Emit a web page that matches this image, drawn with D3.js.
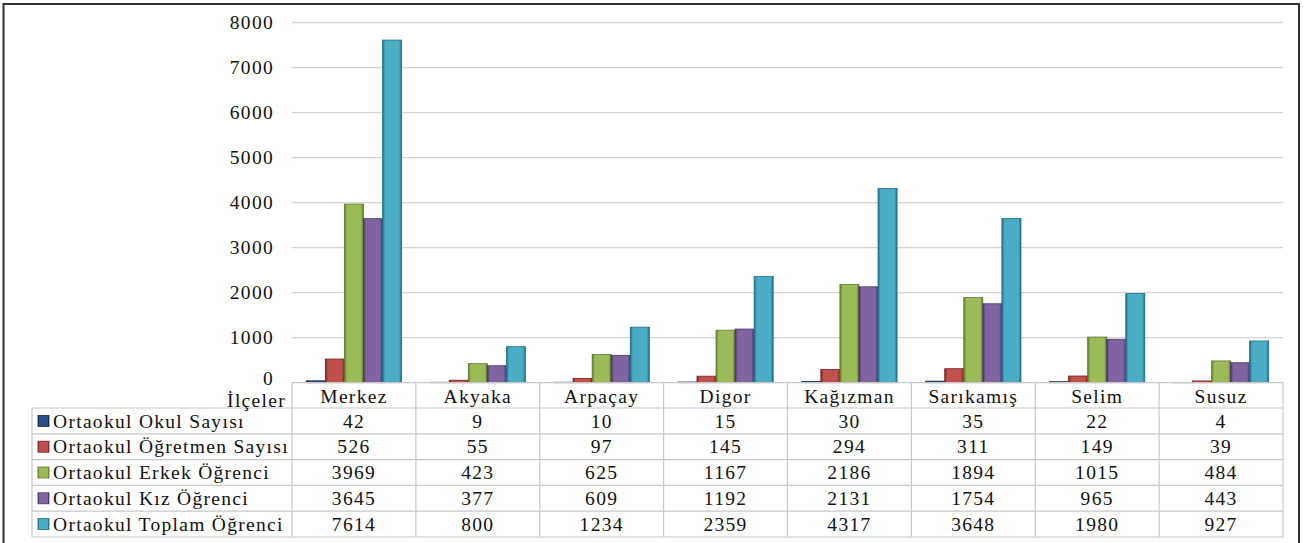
<!DOCTYPE html>
<html><head><meta charset="utf-8">
<script src="https://cdn.jsdelivr.net/npm/d3@7/dist/d3.min.js"></script>
<style>body{margin:0;background:#fff}svg{display:block}</style>
</head><body>
<script>
const categories = ["Merkez","Akyaka","Arpaçay","Digor","Kağızman","Sarıkamış","Selim","Susuz"];
const seriesNames = ["Ortaokul Okul Sayısı","Ortaokul Öğretmen Sayısı","Ortaokul Erkek Öğrenci","Ortaokul Kız Öğrenci","Ortaokul Toplam Öğrenci"];
const okul = [42,9,10,15,30,35,22,4];
const ogretmen = [526,55,97,145,294,311,149,39];
const erkek = [3969,423,625,1167,2186,1894,1015,484];
const kiz = [3645,377,609,1192,2131,1754,965,443];
const toplam = [7614,800,1234,2359,4317,3648,1980,927];
const yTicks = [0,1000,2000,3000,4000,5000,6000,7000,8000];
const seriesValues = [okul, ogretmen, erkek, kiz, toplam];
const colors = ["#2a4f86","#c0504d","#9bbb59","#8064a2","#4bacc6"];
const darks = ["#152a4a","#7a2220","#5f7a2c","#4a3468","#1f6f86"];
const FONT = "Liberation Serif";

const W=1309,H=543;
const svg=d3.select("body").append("svg").attr("width",W).attr("height",H);
const defs=svg.append("defs");
colors.forEach((c,i)=>{
  const g=defs.append("linearGradient").attr("id","g"+i).attr("x1","0").attr("x2","1").attr("y1","0").attr("y2","0");
  [[0,darks[i]],[0.14,c],[0.86,c],[1,darks[i]]].forEach(([o,col])=>g.append("stop").attr("offset",o).attr("stop-color",col));
});

const x0=292,x1=1283,yTop=22.7,yBase=382.7;
const x=d3.scaleBand().domain(categories).range([x0,x1]).padding(0);
const xs=d3.scaleBand().domain(d3.range(5)).range([0,x.bandwidth()]).paddingInner(0).paddingOuter(0.75);
const y=d3.scaleLinear().domain([0,8000]).range([yBase,yTop]);

// outer border
svg.append("rect").attr("x",3.5).attr("y",4).attr("width",1295.5).attr("height",H+10).attr("fill","none").attr("stroke","#333").attr("stroke-width",2);

// gridlines
svg.append("g").selectAll("line").data(yTicks.filter(d=>d>0)).join("line")
  .attr("x1",x0).attr("x2",x1).attr("y1",d=>y(d)).attr("y2",d=>y(d))
  .attr("stroke","#d4d4d4").attr("stroke-width",1.3);

function txt(g,xx,yy,s,anchor,size){
  return g.append("text").attr("x",xx).attr("y",yy).attr("dy","0.34em")
    .attr("font-family",FONT).attr("fill","#111").attr("letter-spacing","1.3px")
    .attr("text-anchor",anchor).attr("font-size",size||19.5).text(s);
}
// y tick labels
const ga=svg.append("g");
yTicks.forEach(t=>txt(ga,274,t===0?y(t)-4:y(t),String(t),"end"));

// bars
const gb=svg.append("g");
seriesValues.forEach((vals,si)=>{
  gb.selectAll(null).data(categories).join("rect")
    .attr("x",(d)=>x(d)+xs(si)).attr("width",xs.bandwidth())
    .attr("y",(d,i)=>y(seriesValues[si][i])).attr("height",(d,i)=>yBase-y(seriesValues[si][i]))
    .attr("fill",`url(#g${si})`).attr("stroke",darks[si]).attr("stroke-width",0.8);
});

// table
const rowTop=408, rowH=25.8, nRows=5, tBot=rowTop+rowH*nRows;
const gt=svg.append("g").attr("stroke","#c8c8c8").attr("stroke-width",1.2);
gt.append("line").attr("x1",x0).attr("x2",x1).attr("y1",yBase).attr("y2",yBase);
for(let r=0;r<=nRows;r++){
  gt.append("line").attr("x1",32).attr("x2",x1).attr("y1",rowTop+r*rowH).attr("y2",rowTop+r*rowH);
}
gt.append("line").attr("x1",32).attr("x2",32).attr("y1",rowTop).attr("y2",tBot);
categories.forEach(c=>gt.append("line").attr("x1",x(c)).attr("x2",x(c)).attr("y1",yBase).attr("y2",tBot));
gt.append("line").attr("x1",x1).attr("x2",x1).attr("y1",yBase).attr("y2",tBot);

const gl=svg.append("g");
txt(gl,286,400,"İlçeler","end");
categories.forEach(c=>txt(gl,x(c)+x.bandwidth()/2,396,c,"middle"));
seriesNames.forEach((n,si)=>{
  const cy=rowTop+rowH*si+rowH/2;
  gl.append("rect").attr("x",38).attr("y",cy-5.5).attr("width",11).attr("height",11)
    .attr("fill",`url(#g${si})`).attr("stroke",darks[si]).attr("stroke-width",0.8);
  txt(gl,53,cy,n,"start");
  categories.forEach((c,i)=>txt(gl,x(c)+x.bandwidth()/2,cy,String(seriesValues[si][i]),"middle"));
});
</script>
</body></html>
